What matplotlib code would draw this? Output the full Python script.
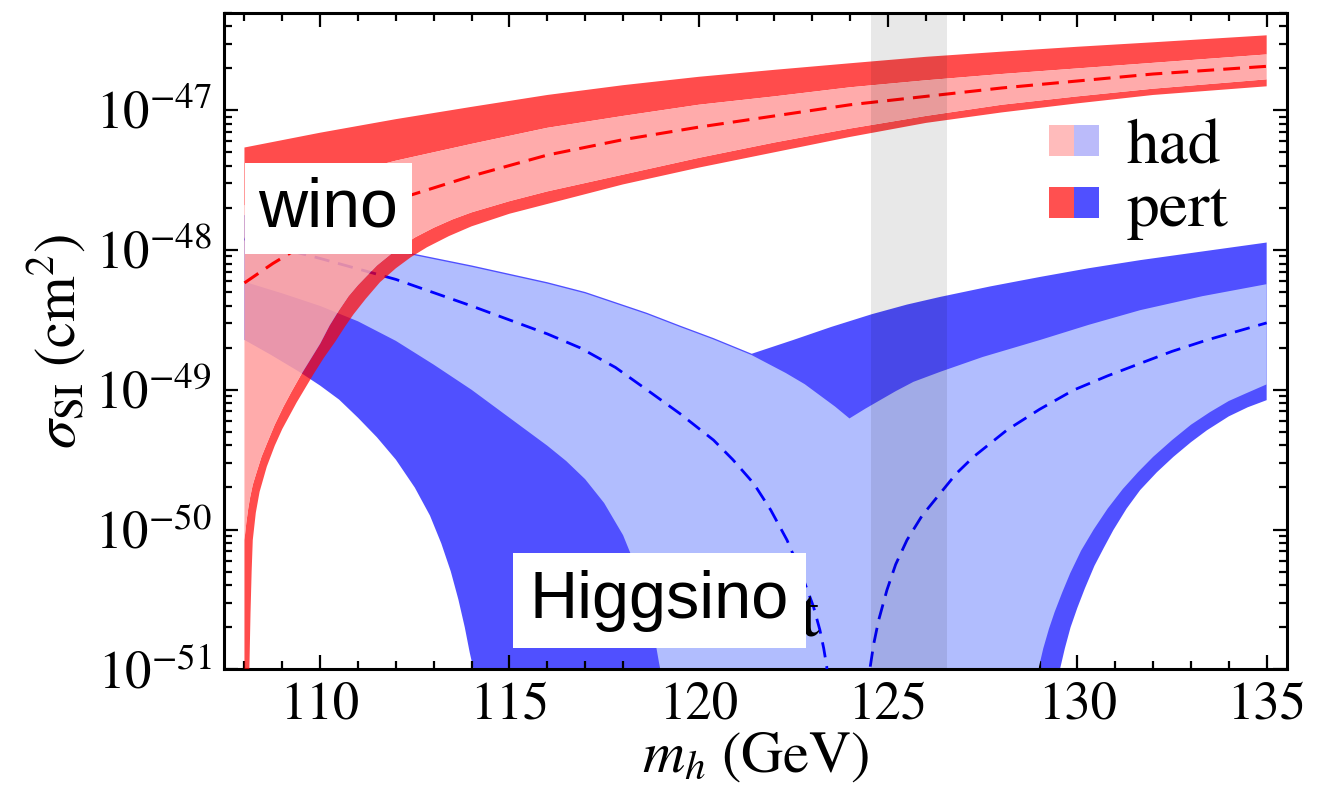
import numpy as np
import matplotlib
matplotlib.use("Agg")
import matplotlib.pyplot as plt
from matplotlib.patches import Patch
from matplotlib.legend_handler import HandlerTuple
from matplotlib.ticker import MultipleLocator, LogLocator, FixedLocator

plt.rcParams['font.family'] = 'STIXGeneral'
plt.rcParams['mathtext.fontset'] = 'stix'

# all band edges are log10(sigma_SI / cm^2) against m_h in GeV

# wino, perturbative band
wino_pert_hi_m = [108, 110, 112, 114, 116, 118, 120, 122, 124, 126, 128, 130, 132, 135]
wino_pert_hi = [-47.266, -47.160, -47.063, -46.975, -46.890, -46.820, -46.760, -46.710,
                -46.663, -46.617, -46.580, -46.545, -46.513, -46.463]
wino_pert_lo_m = [108, 108.13, 108.16, 108.19, 108.22, 108.3, 108.4, 108.59, 108.8, 109, 109.2,
                  109.38, 109.6, 109.82, 110.1, 110.4, 110.65, 110.88, 111.2, 111.58, 112,
                  112.4, 112.82, 113.4, 114, 115, 116, 118, 120, 122, 124, 126, 128, 130, 132, 135]
wino_pert_lo = [-53, -51.0, -50.6, -50.3, -50.075, -49.88, -49.73, -49.55, -49.40, -49.28,
                -49.18, -49.09, -48.99, -48.89, -48.77, -48.655, -48.55, -48.46, -48.35,
                -48.23, -48.13, -48.05, -47.98, -47.90, -47.83, -47.74, -47.67, -47.53,
                -47.41, -47.30, -47.19, -47.09, -47.015, -46.95, -46.89, -46.828]

# wino, hadronic band
wino_had_hi_m = [108, 110, 112, 114, 116, 118, 120, 122, 124, 126, 128, 130, 132, 135]
wino_had_hi = [-47.68, -47.50, -47.36, -47.24, -47.125, -47.04, -46.96, -46.90, -46.835,
               -46.785, -46.74, -46.70, -46.66, -46.60]
wino_had_lo_m = [108, 108.05, 108.1, 108.15, 108.22, 108.31, 108.45, 108.6, 108.8, 109.03,
                 109.25, 109.5, 109.75, 110, 110.25, 110.5, 110.75, 111, 111.5, 112, 112.5,
                 113, 113.5, 114, 115, 116, 117, 118, 120, 122, 124, 126, 128, 130, 132, 135]
wino_had_lo = [-50.075, -49.95, -49.85, -49.77, -49.68, -49.60, -49.48, -49.38, -49.25,
               -49.121, -49.01, -48.89, -48.78, -48.67, -48.54, -48.43, -48.33, -48.25,
               -48.11, -48.00, -47.91, -47.84, -47.78, -47.73, -47.65, -47.58, -47.52,
               -47.46, -47.34, -47.23, -47.13, -47.04, -46.96, -46.90, -46.845, -46.778]

# wino, central value
wino_mid_m = [108, 108.75, 109.4, 110, 111, 112, 114, 116, 118, 120, 122, 124, 126, 128, 130,
              132, 135]
wino_mid = [-48.235, -48.096, -47.99, -47.90, -47.76, -47.64, -47.47, -47.32, -47.21, -47.12,
            -47.04, -46.96, -46.90, -46.84, -46.79, -46.74, -46.685]

# higgsino, perturbative band
higgs_pert_hi_m = [108, 110, 112, 114, 116, 117, 118.63, 119.5, 120.39, 121.4, 122.5, 123.5,
                   124.57, 125.5, 126.38, 127.7, 129.02, 130.3, 131.66, 133.3, 135]
higgs_pert_hi = [-47.75, -47.88, -48.00, -48.11, -48.23, -48.30, -48.449, -48.54, -48.63,
                 -48.742, -48.643, -48.55, -48.459, -48.39, -48.335, -48.26, -48.192,
                 -48.13, -48.072, -48.01, -47.946]
higgs_pert_lo_m = [108, 108.7, 109.44, 110, 110.5, 111, 111.5, 112, 112.5, 112.9, 113.2,
                   113.45, 113.65, 113.82, 113.95, 114.05, 114.15,
                   129.45, 129.54, 129.67, 129.82, 130.0, 130.2, 130.45, 130.7, 130.95,
                   131.3, 131.66, 132.1, 132.54, 133, 133.42, 134, 134.5, 135]
higgs_pert_lo = [-48.643, -48.75, -48.87, -48.97, -49.07, -49.20, -49.34, -49.50, -49.70,
                 -49.90, -50.10, -50.30, -50.50, -50.70, -50.88, -51.0, -53,
                 -53, -51.0, -50.85, -50.70, -50.56, -50.42, -50.26, -50.13, -50.004,
                 -49.85, -49.717, -49.59, -49.479, -49.375, -49.29, -49.19, -49.125, -49.074]

# higgsino, hadronic band
higgs_had_hi_m = [108, 110, 112, 114, 116, 117, 118.63, 119.5, 120.39, 121.4, 122.3, 122.8,
                  123.2, 123.6, 123.98, 124.4, 124.79, 125.2, 125.67, 126.38, 127.5, 129.02,
                  130.3, 131.66, 133.3, 135]
higgs_had_hi = [-47.76, -47.89, -48.01, -48.12, -48.24, -48.31, -48.459, -48.55, -48.64,
                -48.752, -48.88, -48.96, -49.04, -49.12, -49.205, -49.135, -49.074, -49.01,
                -48.943, -48.871, -48.765, -48.643, -48.535, -48.43, -48.33, -48.244]
higgs_had_lo_m = [108, 109, 110, 111, 112, 113, 114, 115, 116, 116.5, 117, 117.5, 118, 118.3,
                  118.6, 118.8, 118.98, 119.1,
                  128.85, 128.97, 129.1, 129.25, 129.4, 129.6, 129.81, 130.1, 130.43, 130.8,
                  131.2, 131.6, 132.0, 132.5, 133, 133.5, 134, 134.5, 135]
higgs_had_lo = [-48.227, -48.31, -48.40, -48.51, -48.65, -48.82, -49.00, -49.20, -49.40,
                -49.51, -49.64, -49.81, -50.04, -50.24, -50.50, -50.72, -51.0, -53,
                -53, -51.0, -50.85, -50.71, -50.59, -50.45, -50.313, -50.15, -50.0, -49.85,
                -49.71, -49.59, -49.48, -49.36, -49.25, -49.16, -49.08, -49.02, -48.961]

# higgsino, central value (two branches either side of the zero)
higgs_mid_left_m = [108, 110, 112, 114, 116, 116.87, 117.8, 118.63, 119.5, 120.39, 120.9,
                    121.45, 121.9, 122.33, 122.7, 123.03, 123.2, 123.3, 123.38, 123.45, 123.5]
higgs_mid_left = [-47.92, -48.06, -48.21, -48.40, -48.60, -48.70, -48.84, -49.00, -49.17,
                  -49.36, -49.50, -49.67, -49.86, -50.075, -50.31, -50.552, -50.72, -50.85,
                  -50.98, -51.3, -51.5]
higgs_mid_right_m = [124.45, 124.5, 124.53, 124.62, 124.75, 124.97, 125.2, 125.5, 125.9,
                     126.38, 126.8, 127.26, 128.14, 129, 129.9, 130.8, 131.66, 132.5,
                     133.42, 135]
higgs_mid_right = [-51.5, -51.2, -50.98, -50.82, -50.65, -50.433, -50.25, -50.075, -49.90,
                   -49.74, -49.60, -49.479, -49.288, -49.14, -49.002, -48.90, -48.811,
                   -48.725, -48.644, -48.521]

# measured higgs mass window
mh_window = [124.55, 126.55]
y_major = [1e-51, 1e-50, 1e-49, 1e-48, 1e-47]


def band(ax, m_lo, lo, m_hi, hi, **kw):
    # closed polygon: upper edge left->right, lower edge right->left
    xs = np.r_[m_hi, m_lo[::-1]]
    ys = 10.0 ** np.r_[hi, lo[::-1]]
    ax.fill(xs, ys, lw=0, **kw)


fig = plt.figure(figsize=(13.2, 7.87), dpi=100)
ax = fig.add_axes([0.1697, 0.1496, 0.8051, 0.8343])
ax.set_yscale('log')

# higgsino
band(ax, higgs_pert_lo_m, higgs_pert_lo, higgs_pert_hi_m, higgs_pert_hi,
     color='#5050FF', zorder=1)
band(ax, higgs_had_lo_m, higgs_had_lo, higgs_had_hi_m, higgs_had_hi,
     color='#B1BDFE', zorder=2)
dash = dict(color='blue', lw=2.0, dashes=(5.5, 3.2), zorder=3)
ax.plot(higgs_mid_left_m, 10.0 ** np.array(higgs_mid_left), **dash)
ax.plot(higgs_mid_right_m, 10.0 ** np.array(higgs_mid_right), **dash)

# wino: pert band drawn as the two strips outside the had band
band(ax, wino_had_hi_m, wino_had_hi, wino_pert_hi_m, wino_pert_hi,
     color='red', alpha=0.7, zorder=4)
band(ax, wino_pert_lo_m, wino_pert_lo, wino_had_lo_m, wino_had_lo,
     color='red', alpha=0.7, zorder=4)
band(ax, wino_had_lo_m, wino_had_lo, wino_had_hi_m, wino_had_hi,
     color='#FFA0A0', alpha=0.88, zorder=5)
ax.plot(wino_mid_m, 10.0 ** np.array(wino_mid), color='red', lw=2.2,
        dashes=(5.5, 3.0), zorder=6)

ax.axvspan(mh_window[0], mh_window[1], color='black', alpha=0.09, lw=0, zorder=7)

# labels for the two bands
box = dict(facecolor='white', edgecolor='none', pad=10)
ax.text(110.22, 10 ** -47.705, 'wino', family='Liberation Sans', fontsize=49,
        ha='center', va='center', bbox=box, zorder=9)
ax.text(122.66, 10 ** -50.767, 't', fontsize=50, ha='left', va='baseline', zorder=8)
ax.text(118.96, 10 ** -50.51, 'Higgsino', family='Liberation Sans', fontsize=48,
        ha='center', va='center', bbox=dict(facecolor='white', edgecolor='none', pad=12),
        zorder=9)

h_had = (Patch(facecolor='#FFBBBB', edgecolor='none'), Patch(facecolor='#BBBBFA', edgecolor='none'))
h_pert = (Patch(facecolor='#FF5050', edgecolor='none'), Patch(facecolor='#5050FF', edgecolor='none'))
ax.legend([h_had, h_pert], ['had', 'pert'],
          handler_map={tuple: HandlerTuple(ndivide=None, pad=0)},
          loc='upper left', bbox_to_anchor=(0.776, 0.838), frameon=False,
          fontsize=47, handlelength=0.77, handleheight=0.37, handletextpad=0.42,
          borderpad=0, borderaxespad=0, labelspacing=0.05)

ax.set_xlim(107.46, 135.53)
ax.set_ylim(1e-51, 5e-47)
ax.xaxis.set_major_locator(MultipleLocator(5))
ax.xaxis.set_minor_locator(MultipleLocator(1))
ax.yaxis.set_major_locator(FixedLocator(y_major))
ax.yaxis.set_minor_locator(LogLocator(base=10, subs=np.arange(2, 10), numticks=20))
ax.tick_params(which='both', direction='in', top=True, right=True, width=1.6,
               labelsize=38, pad=9)
ax.tick_params(which='major', length=10)
ax.tick_params(which='minor', length=6)
for s in ax.spines.values():
    s.set_linewidth(2.2)

ax.set_xlabel(r'$m_h\ (\rm GeV)$', fontsize=42, labelpad=0)
ax.set_ylabel(r'$\sigma_{\rm SI}\ (\rm cm^2)$', fontsize=42, labelpad=4)

fig.savefig('out.png', dpi=100)
